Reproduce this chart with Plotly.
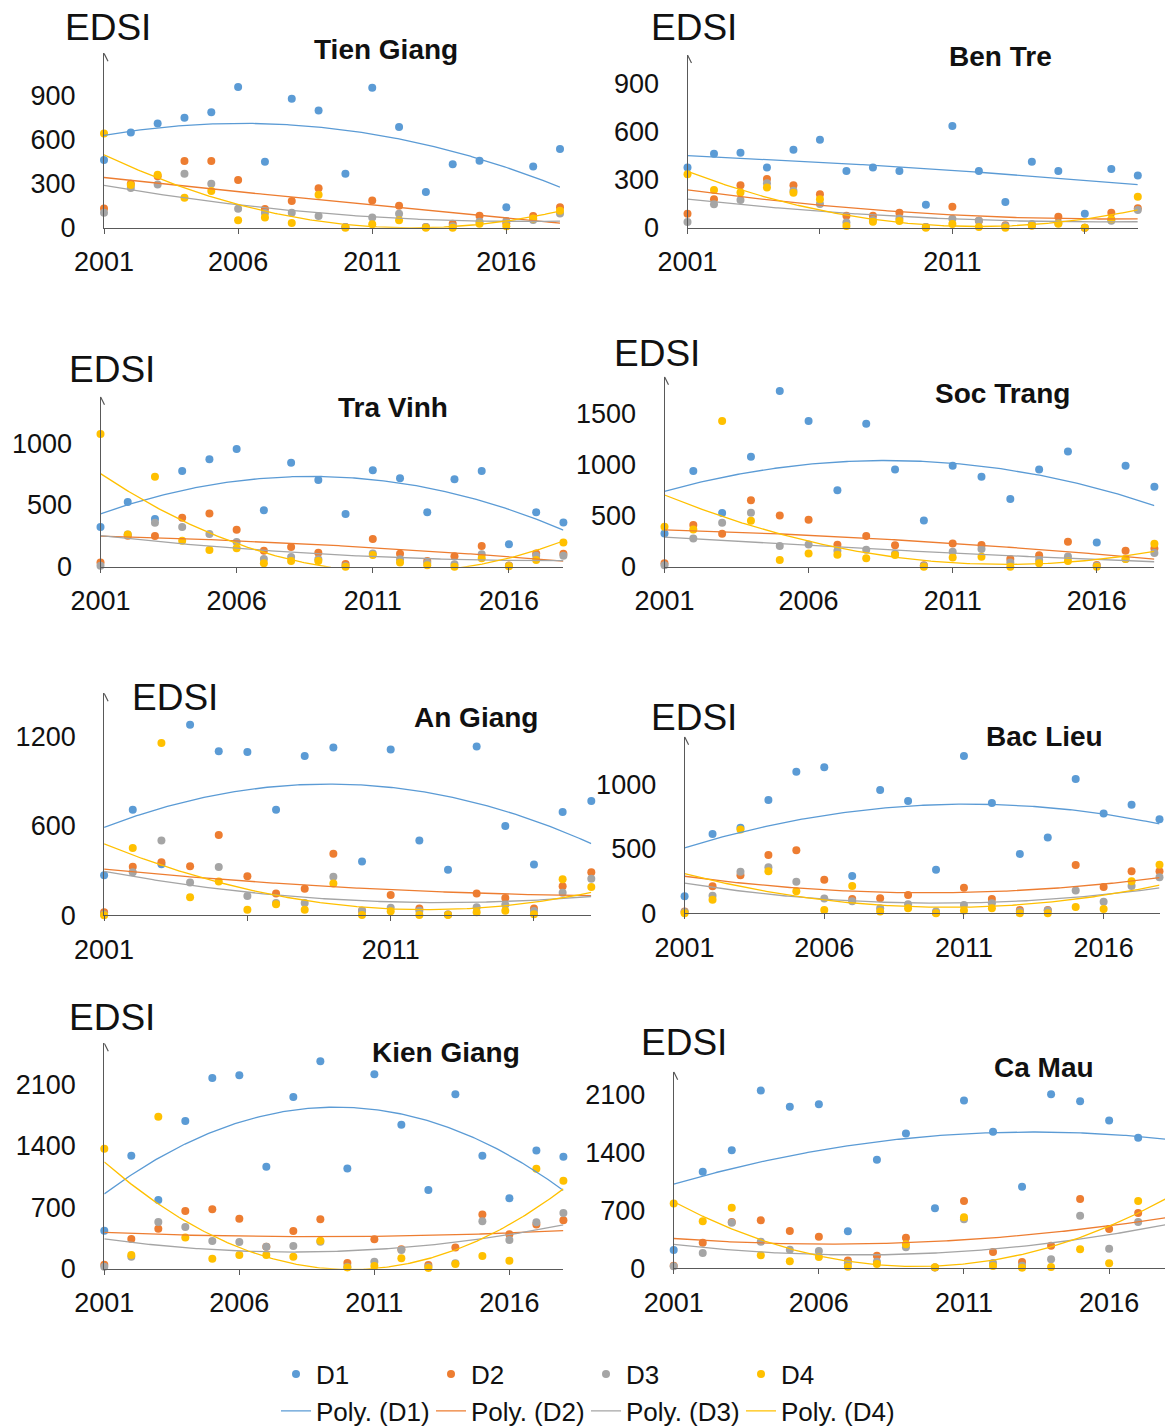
import numpy as np
import plotly.graph_objects as go

YEARS = list(range(2001, 2019))
SERIES = ["D1", "D2", "D3", "D4"]
TICK_YEARS = [2001, 2006, 2011, 2016]

# ---------------- data (EDSI values, 2001..2018) ----------------
TG_D1 = [459, 647, 708, 746, 783, 955, 448, 875, 796, 366, 950, 683, 242, 430, 455, 138, 416, 534]
TG_D2 = [131, 299, 350, 452, 452, 323, 127, 181, 267, 5, 185, 149, 5, 27, 81, 30, 79, 138]
TG_D3 = [102, 270, 294, 366, 299, 129, 100, 102, 80, 5, 70, 95, 5, 10, 40, 45, 52, 97]
TG_D4 = [640, 290, 360, 204, 249, 50, 70, 32, 224, 0, 23, 50, 0, 0, 27, 9, 63, 115]

BT_D1 = [376, 461, 468, 376, 486, 549, 353, 376, 353, 143, 634, 353, 160, 412, 353, 87, 366, 326]
BT_D2 = [87, 177, 264, 304, 264, 208, 75, 75, 94, 5, 131, 44, 15, 15, 69, 0, 94, 121]
BT_D3 = [35, 146, 173, 277, 230, 148, 33, 48, 58, 5, 56, 44, 10, 23, 27, 0, 44, 110]
BT_D4 = [333, 235, 220, 250, 218, 177, 10, 37, 42, 0, 23, 4, 0, 12, 25, 0, 52, 193]

TV_D1 = [322, 524, 386, 776, 870, 954, 457, 843, 703, 427, 781, 716, 441, 708, 776, 181, 441, 359]
TV_D2 = [35, 251, 249, 397, 432, 300, 130, 160, 114, 22, 224, 105, 46, 84, 168, 10, 108, 105]
TV_D3 = [8, 260, 357, 322, 265, 200, 62, 78, 60, 5, 108, 60, 30, 20, 100, 8, 89, 89]
TV_D4 = [1076, 262, 730, 211, 135, 149, 27, 46, 46, 0, 95, 35, 11, 0, 68, 3, 54, 197]

ST_D1 = [326, 936, 525, 1076, 1718, 1425, 747, 1399, 952, 453, 988, 880, 662, 952, 1128, 238, 988, 783]
ST_D2 = [33, 408, 323, 649, 502, 460, 215, 300, 209, 15, 228, 212, 75, 111, 245, 16, 157, 179]
ST_D3 = [13, 277, 430, 528, 202, 218, 157, 166, 127, 10, 147, 173, 42, 65, 101, 10, 75, 134]
ST_D4 = [391, 365, 1425, 450, 65, 130, 117, 82, 114, 0, 91, 98, 0, 33, 55, 0, 75, 225]

AG_D1 = [270, 710, 343, 1281, 1103, 1098, 710, 1071, 1127, 362, 1114, 502, 306, 1134, 600, 341, 694, 768]
AG_D2 = [20, 326, 357, 330, 540, 263, 147, 179, 413, 31, 136, 45, 5, 147, 116, 45, 196, 290]
AG_D3 = [5, 290, 502, 221, 324, 129, 83, 83, 259, 31, 51, 31, 5, 54, 71, 29, 152, 246]
AG_D4 = [0, 453, 1158, 121, 228, 38, 74, 38, 214, 2, 27, 2, 2, 20, 31, 7, 243, 190]

BL_D1 = [132, 615, 664, 879, 1098, 1132, 289, 956, 871, 338, 1220, 855, 460, 587, 1041, 773, 842, 729]
BL_D2 = [13, 209, 295, 452, 488, 261, 111, 116, 142, 5, 199, 111, 26, 26, 375, 204, 326, 326]
BL_D3 = [10, 137, 323, 357, 245, 114, 93, 39, 70, 13, 65, 78, 13, 21, 176, 90, 212, 279]
BL_D4 = [0, 106, 649, 326, 171, 26, 212, 13, 39, 0, 21, 39, 0, 0, 49, 34, 248, 377]

KG_D1 = [433, 1285, 783, 1681, 2171, 2202, 1160, 1954, 2361, 1141, 2213, 1639, 897, 1985, 1285, 802, 1346, 1274]
KG_D2 = [46, 338, 456, 658, 677, 570, 251, 430, 563, 65, 335, 221, 42, 240, 616, 392, 502, 551]
KG_D3 = [23, 137, 532, 475, 316, 304, 251, 259, 308, 23, 80, 213, 23, 61, 540, 327, 529, 635]
KG_D4 = [1365, 156, 1730, 354, 114, 156, 156, 137, 319, 15, 30, 118, 8, 53, 144, 91, 1137, 1000]

CM_D1 = [222, 1169, 1431, 2153, 1956, 1988, 448, 1315, 1633, 726, 2032, 1653, 988, 2109, 2024, 1790, 1581, 1390]
CM_D2 = [32, 310, 560, 581, 452, 383, 93, 153, 371, 10, 815, 198, 77, 274, 839, 476, 669, 560]
CM_D3 = [24, 185, 552, 323, 226, 210, 60, 80, 254, 10, 593, 65, 30, 109, 637, 238, 560, 600]
CM_D4 = [786, 569, 734, 157, 85, 137, 20, 52, 290, 12, 617, 28, 8, 16, 230, 60, 815, 1190]

PROVINCES = ["Tien Giang", "Ben Tre", "Tra Vinh", "Soc Trang",
             "An Giang", "Bac Lieu", "Kien Giang", "Ca Mau"]
PROVINCE_DATA = [
    [TG_D1, TG_D2, TG_D3, TG_D4],
    [BT_D1, BT_D2, BT_D3, BT_D4],
    [TV_D1, TV_D2, TV_D3, TV_D4],
    [ST_D1, ST_D2, ST_D3, ST_D4],
    [AG_D1, AG_D2, AG_D3, AG_D4],
    [BL_D1, BL_D2, BL_D3, BL_D4],
    [KG_D1, KG_D2, KG_D3, KG_D4],
    [CM_D1, CM_D2, CM_D3, CM_D4],
]
Y_TICKS = [
    [0, 300, 600, 900],
    [0, 300, 600, 900],
    [0, 500, 1000],
    [0, 500, 1000, 1500],
    [0, 600, 1200],
    [0, 500, 1000],
    [0, 700, 1400, 2100],
    [0, 700, 1400, 2100],
]
X_TICK_TEXT = [
    ["2001", "2006", "2011", "2016"],
    ["2001", "", "2011", ""],
    ["2001", "2006", "2011", "2016"],
    ["2001", "2006", "2011", "2016"],
    ["2001", "", "2011", ""],
    ["2001", "2006", "2011", "2016"],
    ["2001", "2006", "2011", "2016"],
    ["2001", "2006", "2011", "2016"],
]

# ---------------- layout (pixels in a 1165 x 1427 page) ----------------
W, H = 1165, 1427
COLORS = ["#5B9BD5", "#ED7D31", "#A5A5A5", "#FFC000"]
AXIS_COLOR = "#595959"
FONT = "Liberation Sans, Arial, sans-serif"

# x-pixel of 2001, x-pixel of 2018, y-pixel of 0, y-pixel of axis top, value at axis top
GEOM = [
    dict(x0=104, x1=560, y0=227.7, yt=53.3, ymax=1184),
    dict(x0=687.5, x1=1137.8, y0=227.7, yt=55, ymax=1077),
    dict(x0=100.5, x1=563.4, y0=566.7, yt=396.7, ymax=1378),
    dict(x0=664.5, x1=1154.4, y0=566.7, yt=376.7, ymax=1859),
    dict(x0=104.1, x1=591.3, y0=915.3, yt=693.3, ymax=1492),
    dict(x0=684.6, x1=1159.5, y0=913.3, yt=736.7, ymax=1369),
    dict(x0=104.3, x1=563.4, y0=1268.7, yt=1043.3, ymax=2566),
    dict(x0=673.7, x1=1167.2, y0=1268.3, yt=1071.7, ymax=2381),
]
TITLE_POS = [(386, 50), (1000, 57), (393, 407), (1002, 393),
             (476, 717), (1044, 736), (446, 1052), (1044, 1067)]
EDSI_POS = [(63, 28), (649, 28), (67, 369), (612, 353),
            (130, 697), (649, 717), (67, 1017), (639, 1042)]


def pxx(v):
    return v / W


def pyy(v):
    return 1 - v / H


fig = go.Figure()
shapes = []
annotations = []

for i, (name, series_list) in enumerate(zip(PROVINCES, PROVINCE_DATA)):
    g = GEOM[i]
    ax = "" if i == 0 else str(i + 1)
    xref, yref = "x" + ax, "y" + ax

    # x range: 2018 may fall beyond the page edge (Ca Mau) -> clip domain at page edge
    per_year = (g["x1"] - g["x0"]) / 17.0
    x_right_px = min(g["x1"], W)
    x_end = 2001 + (x_right_px - g["x0"]) / per_year

    for k, (sname, vals) in enumerate(zip(SERIES, series_list)):
        fig.add_trace(go.Scatter(
            x=YEARS, y=vals, mode="markers", name=sname,
            marker=dict(color=COLORS[k], size=8),
            cliponaxis=False, xaxis=xref, yaxis=yref,
            legend="legend", showlegend=(i == 0),
        ))
    for k, (sname, vals) in enumerate(zip(SERIES, series_list)):
        xs = np.array([yr for yr, v in zip(YEARS, vals) if v is not None], dtype=float)
        ys = np.array([v for v in vals if v is not None], dtype=float)
        coef = np.polyfit(xs - 2001, ys, 2)
        xl = np.linspace(2001, 2018, 240)
        yl = np.polyval(coef, xl - 2001)
        fig.add_trace(go.Scatter(
            x=xl, y=yl, mode="lines", name="Poly. (%s)" % sname,
            line=dict(color=COLORS[k], width=1.3),
            xaxis=xref, yaxis=yref,
            legend="legend2", showlegend=(i == 0),
        ))

    fig.update_layout(**{
        "xaxis" + ax: dict(
            domain=[pxx(g["x0"]), pxx(x_right_px)], range=[2001, x_end],
            anchor=yref, showline=True, linecolor=AXIS_COLOR, linewidth=1,
            ticks="outside", ticklen=5, tickcolor=AXIS_COLOR,
            tickvals=TICK_YEARS, ticktext=X_TICK_TEXT[i],
            tickfont=dict(size=27, color="#111111", family=FONT),
            ticklabelstandoff=5, showgrid=False, zeroline=False,
            automargin=False,
        ),
        "yaxis" + ax: dict(
            domain=[pyy(g["y0"]), pyy(g["yt"])], range=[0, g["ymax"]],
            anchor=xref, showline=True, linecolor=AXIS_COLOR, linewidth=1,
            ticks="", tickvals=Y_TICKS[i],
            tickfont=dict(size=27, color="#111111", family=FONT),
            ticklabelstandoff=22, showgrid=False, zeroline=False,
            automargin=False,
        ),
    })

    # arrow head at top of y axis
    shapes.append(dict(
        type="path", xref=xref, yref=yref,
        xsizemode="pixel", ysizemode="pixel",
        xanchor=2001, yanchor=g["ymax"],
        path="M-4,-8L0,0L4,-8",
        line=dict(color=AXIS_COLOR, width=1.2),
    ))

    tx, ty = TITLE_POS[i]
    annotations.append(dict(
        text="<b>%s</b>" % name, xref="paper", yref="paper",
        x=pxx(tx), y=pyy(ty), xanchor="center", yanchor="middle",
        showarrow=False, font=dict(size=28, color="#111111", family=FONT),
    ))
    ex, ey = EDSI_POS[i]
    annotations.append(dict(
        text="EDSI", xref="paper", yref="paper",
        x=pxx(ex), y=pyy(ey), xanchor="left", yanchor="middle",
        showarrow=False, font=dict(size=37, color="#111111", family=FONT),
    ))

legend_common = dict(
    orientation="h", xanchor="left", yanchor="middle",
    font=dict(size=26, color="#111111", family=FONT),
    entrywidth=110, entrywidthmode="pixels", itemwidth=30,
    bgcolor="rgba(0,0,0,0)", borderwidth=0, tracegroupgap=0,
)
fig.update_layout(
    width=W, height=H,
    margin=dict(l=0, r=0, t=0, b=0, autoexpand=False),
    paper_bgcolor="white", plot_bgcolor="white",
    font=dict(family=FONT, color="#111111"),
    shapes=shapes, annotations=annotations,
    legend=dict(x=pxx(276), y=pyy(1374), **legend_common),
    legend2=dict(x=pxx(276), y=pyy(1411), **legend_common),
    showlegend=True,
)

fig.write_html(
    "out.html",
    config={"displayModeBar": False},
    post_script="document.body.style.margin='0';document.body.style.overflow='hidden';",
)
